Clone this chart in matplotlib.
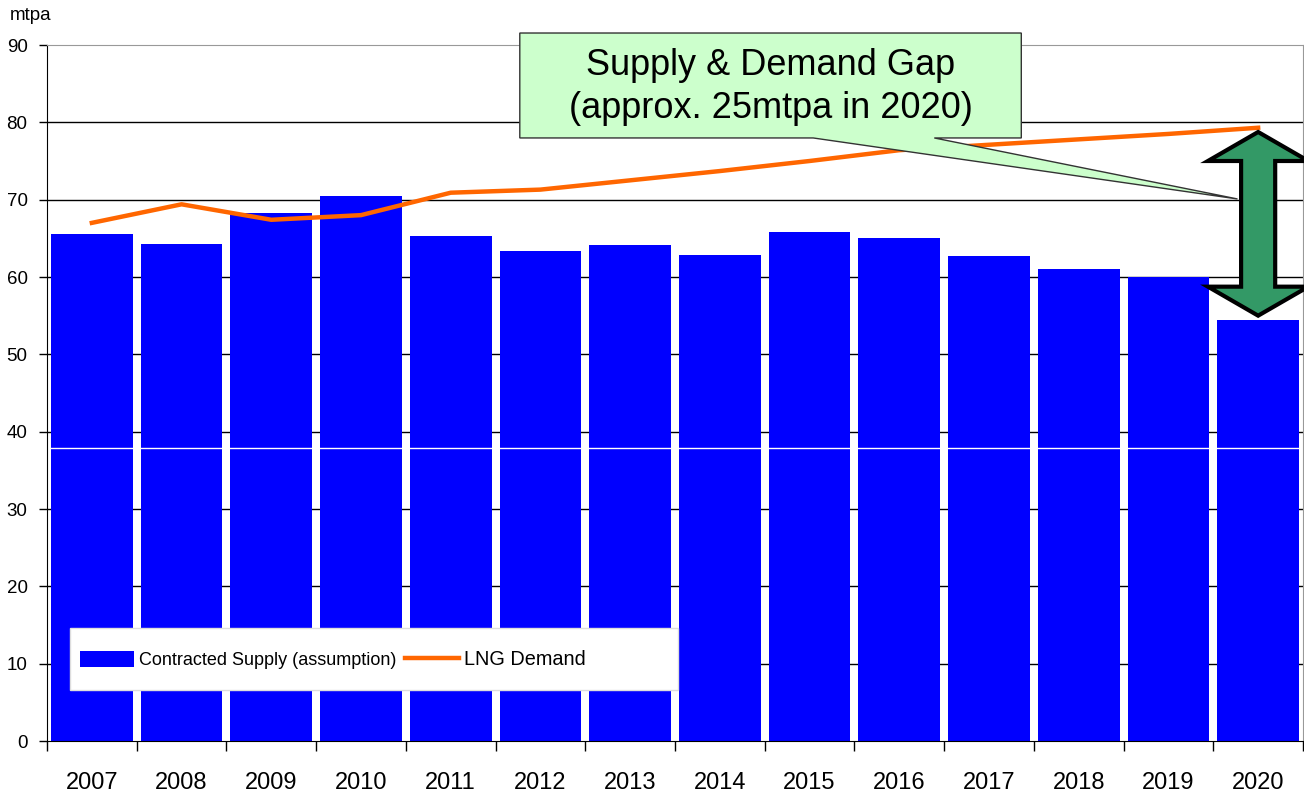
import numpy as np
import matplotlib
matplotlib.use('Agg')
import matplotlib.pyplot as plt
from matplotlib.patches import Polygon, Rectangle

plt.rcParams['font.family'] = ['Liberation Sans', 'DejaVu Sans']

years = ['2007', '2008', '2009', '2010', '2011', '2012', '2013',
         '2014', '2015', '2016', '2017', '2018', '2019', '2020']
supply = [65.6, 64.3, 68.3, 70.5, 65.3, 63.4, 64.1, 62.8, 65.8, 65.0, 62.7, 61.0, 60.0, 54.4]
demand = [67.0, 69.4, 67.4, 68.0, 70.9, 71.3, 72.5, 73.7, 75.0, 76.4, 77.1, 77.8, 78.5, 79.3]
yticks = np.arange(0, 91, 10)

fig = plt.figure(figsize=(13.04, 7.96), dpi=100)
ax = fig.add_axes([47/1304, 1-741/796, 1256/1304, 696/796])

x = np.arange(len(years))
# gridlines behind the bars
for v in yticks[1:-1]:
    ax.axhline(v, color='black', lw=1, zorder=0.5)
bars = ax.bar(x, supply, width=0.91, color='#0000FF', label='Contracted Supply (assumption)', zorder=2)
ax.axhline(37.9, color='white', lw=1, zorder=2.5)
line, = ax.plot(x, demand, color='#FF6600', lw=3.2, label='LNG Demand', zorder=3)

ax.set_xlim(-0.5, len(years) - 0.5)
ax.set_ylim(0, 90)
ax.set_yticks(yticks)
ax.tick_params(axis='y', length=6, width=1, pad=8, labelsize=13.5)

ax.set_xticks(np.arange(-0.5, len(years), 1))
ax.set_xticklabels([])
ax.set_xticks(x, minor=True)
ax.set_xticklabels(years, minor=True)
ax.tick_params(axis='x', which='major', length=7, width=1)
ax.tick_params(axis='x', which='minor', length=0, pad=22, labelsize=17)

for s in ['top', 'right']:
    ax.spines[s].set_color('#999999')
ax.spines['left'].set_color('black')
ax.spines['bottom'].set_color('black')

# legend box
ax.add_patch(Rectangle((0.018, 0.073), 0.484, 0.089, transform=ax.transAxes,
                       facecolor='white', edgecolor='#dddddd', lw=1, zorder=4))
leg = ax.legend([bars, line], ['Contracted Supply (assumption)', 'LNG Demand'],
                loc='center left', bbox_to_anchor=(0.018, 0.117), ncol=2, fontsize=13,
                frameon=False, handlelength=3, handleheight=1.0, handletextpad=0.3,
                columnspacing=0.45, borderpad=0, borderaxespad=0.55)
leg.get_texts()[1].set_fontsize(14.3)
leg.set_zorder(5)

# callout box with tail
callout = Polygon([(4.77, 91.55), (10.36, 91.55), (10.36, 77.98), (9.39, 77.98),
                   (12.77, 70.09), (8.04, 77.98), (4.77, 77.98)],
                  closed=True, facecolor='#CCFFCC', edgecolor='#333333', lw=1,
                  clip_on=False, zorder=6)
ax.add_patch(callout)
ax.text(7.565, 84.6, 'Supply & Demand Gap\n(approx. 25mtpa in 2020)', ha='center', va='center',
        fontsize=26, linespacing=1.3, zorder=7)

# double arrow showing the gap
cx, top, bot = 13, 78.75, 55.0
hw, sw, hl = 0.56, 0.19, 3.75
arrow = Polygon([(cx, top), (cx + hw, top - hl), (cx + sw, top - hl), (cx + sw, bot + hl),
                 (cx + hw, bot + hl), (cx, bot), (cx - hw, bot + hl), (cx - sw, bot + hl),
                 (cx - sw, top - hl), (cx - hw, top - hl)],
                closed=True, facecolor='#339966', edgecolor='black', lw=3,
                joinstyle='miter', clip_on=False, zorder=8)
ax.add_patch(arrow)

fig.text(10/1304, 1-16/796, 'mtpa', fontsize=13.5, va='center', ha='left')

fig.savefig('out.png', dpi=100)
